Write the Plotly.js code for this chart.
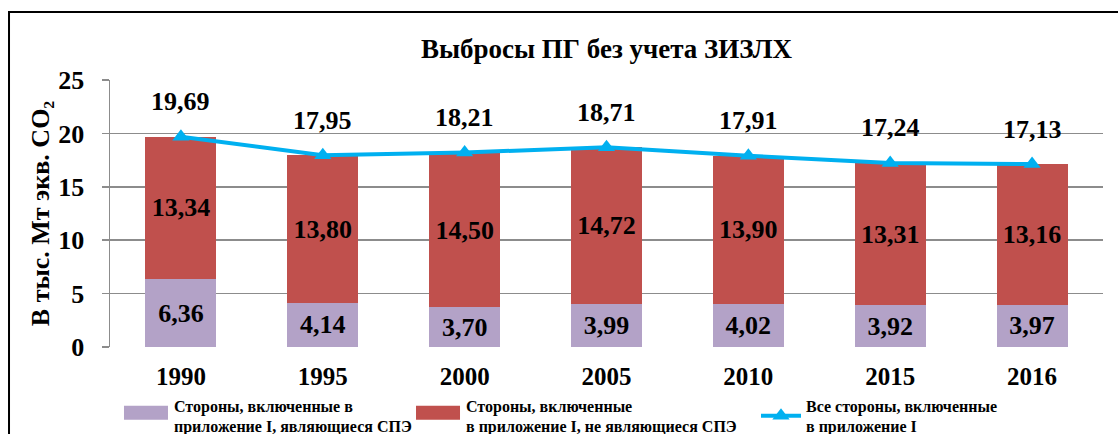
<!DOCTYPE html>
<html>
<head>
<meta charset="utf-8">
<script src="https://cdn.plot.ly/plotly-3.0.1.min.js"></script>
<style>html,body{margin:0;padding:0;background:#fff;}#chart{width:1118px;height:434px;}</style>
</head>
<body>
<div id="chart"></div>
<script>
const years = ['1990', '1995', '2000', '2005', '2010', '2015', '2016'];
const speValues = [6.36, 4.14, 3.70, 3.99, 4.02, 3.92, 3.97];
const nonSpeValues = [13.34, 13.80, 14.50, 14.72, 13.90, 13.31, 13.16];
const totalValues = [19.69, 17.95, 18.21, 18.71, 17.91, 17.24, 17.13];
const yTicks = [0, 5, 10, 15, 20, 25];

const seriesNames = [
  'Стороны, включенные в<br>приложение I, являющиеся СПЭ',
  'Стороны, включенные<br>в приложение I, не являющиеся СПЭ',
  'Все стороны, включенные<br>в приложение I'
];

const fmt = v => v.toFixed(2).replace('.', ',');
const FONT = 'Liberation Serif, Times New Roman, serif';

const traces = [
  {
    type: 'bar', x: years, y: speValues, name: seriesNames[0],
    marker: {color: '#B3A2C7'},
    text: speValues.map(fmt), textposition: 'inside', insidetextanchor: 'middle',
    constraintext: 'none',
    textfont: {family: FONT, size: 26, color: '#000', weight: 'bold'},
    legend: 'legend', hoverinfo: 'skip'
  },
  {
    type: 'bar', x: years, y: nonSpeValues, name: seriesNames[1],
    marker: {color: '#C0504D'},
    text: nonSpeValues.map(fmt), textposition: 'inside', insidetextanchor: 'middle',
    constraintext: 'none',
    textfont: {family: FONT, size: 26, color: '#000', weight: 'bold'},
    legend: 'legend2', hoverinfo: 'skip'
  },
  {
    type: 'scatter', mode: 'lines+markers', x: years, y: totalValues, name: seriesNames[2],
    line: {color: '#00B0F0', width: 4},
    marker: {symbol: 'triangle-up', size: 15, color: '#00B0F0'},
    legend: 'legend3', hoverinfo: 'skip'
  }
];

// category axis: annotations addressed by category index
const annotations = years.map((yr, i) => ({
  x: i, y: totalValues[i], xref: 'x', yref: 'y',
  text: fmt(totalValues[i]), showarrow: false, yshift: 35,
  font: {family: FONT, size: 26, color: '#000', weight: 'bold'}
}));

const legendFont = {family: FONT, size: 16, color: '#000', weight: 'bold'};
const legendBase = {orientation: 'h', xref: 'container', yref: 'container',
  yanchor: 'middle', y: 0.0415, xanchor: 'left',
  font: legendFont, bgcolor: 'rgba(0,0,0,0)', borderwidth: 0, tracegroupgap: 0, itemwidth: 40};

const layout = {
  width: 1118, height: 434,
  margin: {l: 110, r: 15, t: 80, b: 87},
  paper_bgcolor: '#fff', plot_bgcolor: '#fff',
  barmode: 'stack', bargap: 0.5,
  showlegend: true,
  title: {text: 'Выбросы ПГ без учета ЗИЗЛХ', x: 0.5, xref: 'paper', xanchor: 'center', y: 0.887, yanchor: 'middle',
    font: {family: FONT, size: 27, color: '#000', weight: 'bold'}},
  xaxis: {
    type: 'category', showgrid: false, zeroline: false, showline: false, ticks: '',
    ticklabelstandoff: 12,
    tickfont: {family: FONT, size: 25, color: '#000', weight: 'bold'}, fixedrange: true
  },
  yaxis: {
    range: [0, 25], tickvals: yTicks, ticktext: yTicks.map(String),
    showgrid: true, gridcolor: '#8C8C8C', gridwidth: 1.5,
    showline: true, linecolor: '#8C8C8C', linewidth: 1.5,
    ticks: 'outside', ticklen: 7, tickcolor: '#8C8C8C', tickwidth: 1.5,
    ticklabelstandoff: 12,
    zeroline: false,
    tickfont: {family: FONT, size: 26, color: '#000', weight: 'bold'},
    title: {text: 'В тыс. Мт экв. CO₂', standoff: 1,
      font: {family: FONT, size: 26, color: '#000', weight: 'bold'}},
    fixedrange: true
  },
  legend: Object.assign({}, legendBase, {x: 0.1109}),
  legend2: Object.assign({}, legendBase, {x: 0.3721}),
  legend3: Object.assign({}, legendBase, {x: 0.6762}),
  annotations: annotations,
  shapes: [{type: 'rect', xref: 'paper', yref: 'paper', x0: -0.1017, x1: 1.2, y0: -0.6, y1: 1.2547,
    line: {color: '#000', width: 2}, fillcolor: 'rgba(0,0,0,0)', layer: 'below'}]
};

Plotly.newPlot('chart', traces, layout, {displayModeBar: false, staticPlot: true}).then(function (gd) {
  // widen the bar swatches in the legends to match the reference's rectangles
  gd.querySelectorAll('.legendpoints path').forEach(function (p) {
    const d = p.getAttribute('d') || '';
    if (/^M6,6H-6V-6H6Z$/.test(d.replace(/\s/g, ''))) {
      p.setAttribute('d', 'M-27,-10H19V4H-27Z');
    }
  });
});
</script>
</body>
</html>
